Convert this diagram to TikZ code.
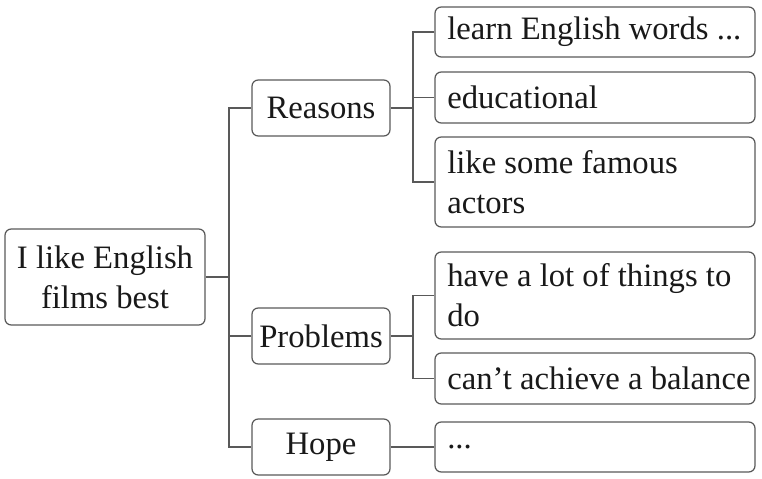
\documentclass[tikz,border=0pt]{standalone}
\usepackage{fontspec}
\setmainfont{Liberation Serif}
\usepackage{tikz}
\usetikzlibrary{calc}

\begin{document}
\begin{tikzpicture}[x=0.02cm,y=-0.02cm,
  box/.style={draw=black!65, line width=0.7pt, rounded corners=3.5pt,
    font=\fontsize{18.6}{22.7}\selectfont, text=black!90, align=center,
    minimum width=2.76cm, minimum height=1.12cm, inner sep=0pt},
  leaf/.style={box, minimum width=6.4cm, minimum height=1.0cm},
  txt/.style={anchor=west, align=left, inner xsep=0.25cm, inner ysep=0pt,
    font=\fontsize{18.6}{22.7}\selectfont, text=black!90},
  link/.style={draw=black!65, line width=0.7pt}]

 \useasboundingbox (0,0) rectangle (762,479);

 % root and the three headings
 \node[box, minimum width=4cm, minimum height=1.92cm] (root) at (105,277) {I like English\\films best};
 \node[box] (reasons) at (321,108) {Reasons};
 \node[box] (problems) at (321,336) {Problems};
 \node[box] (hope) at (321,447) {Hope};

 % leaves
 \node[leaf, label={[txt]west:{learn English words ...}}] (words) at (595,32) {};
 \node[leaf, minimum height=1.02cm, label={[txt]west:{educational}}] (educ) at (595,97.5) {};
 \node[leaf, minimum height=1.8cm, label={[txt]west:{like some famous\\actors}}] (actors) at (595,182) {};
 \node[leaf, minimum height=1.74cm, label={[txt]west:{have a lot of things to\\do}}] (things) at (595,295.5) {};
 \node[leaf, minimum height=1.02cm, label={[txt]west:{can’t achieve a balance}}] (balance) at (595,378.5) {};
 \node[leaf, label={[txt]west:{...}}] (dots) at (595,447) {};

 \coordinate (trunk) at (229,0);
 \coordinate (rb) at (413,0);
 \coordinate (pb) at (413,0);

 \draw[link] (root.east) -- (root.east -| trunk);
 \draw[link] (reasons.west) -| (trunk |- hope.west) -- (hope.west);
 \draw[link] (problems.west) -- (problems.west -| trunk);

 \draw[link] (reasons.east) -- (reasons.east -| rb);
 \draw[link] (words.west) -| (rb |- actors.west) -- (actors.west);
 \draw[link] (educ.west) -- (educ.west -| rb);

 \draw[link] (problems.east) -- (problems.east -| pb);
 \draw[link] (things.west) -| (pb |- balance.west) -- (balance.west);

 \draw[link] (hope.east) -- (dots.west);

\end{tikzpicture}
\end{document}
